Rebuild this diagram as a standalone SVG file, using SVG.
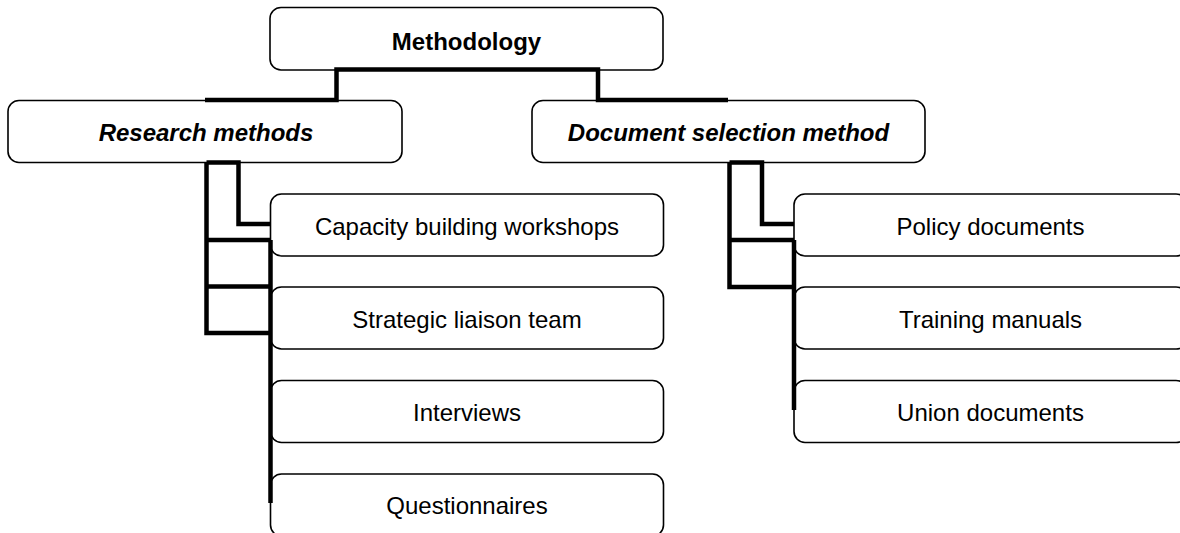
<svg xmlns="http://www.w3.org/2000/svg" width="1180" height="533" viewBox="0 0 1180 533">
  <style>
    .box { fill: #ffffff; stroke: #000000; stroke-width: 1.6; }
    .link { fill: none; stroke: #000000; stroke-width: 4.5; stroke-linejoin: miter; stroke-linecap: butt; }
    text { font-family: "Liberation Sans", Arial, sans-serif; font-size: 24px; fill: #000000; text-anchor: middle; }
    .root { font-weight: bold; }
    .branch { font-weight: bold; font-style: italic; }
  </style>
  <rect width="1180" height="533" fill="#ffffff"/>

  <!-- nodes -->
  <g id="methodology">
    <rect class="box" x="270" y="7.5" width="393" height="62.5" rx="11"/>
    <text class="root" x="466.5" y="50">Methodology</text>
  </g>
  <g id="research-methods">
    <rect class="box" x="8" y="100.5" width="394" height="62" rx="11"/>
    <text class="branch" x="206" y="140.5">Research methods</text>
  </g>
  <g id="document-selection">
    <rect class="box" x="532" y="100.5" width="393" height="62" rx="11"/>
    <text class="branch" x="728.5" y="140.5">Document selection method</text>
  </g>
  <g id="capacity-building">
    <rect class="box" x="270.5" y="194" width="393" height="62" rx="11"/>
    <text x="467" y="234.5">Capacity building workshops</text>
  </g>
  <g id="strategic-liaison">
    <rect class="box" x="270.5" y="287" width="393" height="62" rx="11"/>
    <text x="467" y="327.5">Strategic liaison team</text>
  </g>
  <g id="interviews">
    <rect class="box" x="270.5" y="380.5" width="393" height="62" rx="11"/>
    <text x="467" y="421">Interviews</text>
  </g>
  <g id="questionnaires">
    <rect class="box" x="270.5" y="474" width="393" height="62" rx="11"/>
    <text x="467" y="514">Questionnaires</text>
  </g>
  <g id="policy-documents">
    <rect class="box" x="794" y="194" width="393" height="62" rx="11"/>
    <text x="990.5" y="234.5">Policy documents</text>
  </g>
  <g id="training-manuals">
    <rect class="box" x="794" y="287" width="393" height="62" rx="11"/>
    <text x="990.5" y="327.5">Training manuals</text>
  </g>
  <g id="union-documents">
    <rect class="box" x="794" y="380.5" width="393" height="62" rx="11"/>
    <text x="990.5" y="421">Union documents</text>
  </g>

  <!-- connectors: elbow lines from each parent to its children -->
  <g id="connectors">
    <path class="link" d="M467,69.5 H336.5 V100 H205"/>
    <path class="link" d="M467,69.5 H598 V100 H728"/>

    <path class="link" d="M206.5,162.5 H238.5 V224 H270.5"/>
    <path class="link" d="M206.5,162.5 V333 H270.5"/>
    <path class="link" d="M206.5,240 H270.5"/>
    <path class="link" d="M206.5,286.5 H270.5"/>
    <path class="link" d="M270.5,240 V503"/>

    <path class="link" d="M729.5,162.5 H762 V224 H794"/>
    <path class="link" d="M729.5,162.5 V287 H794"/>
    <path class="link" d="M729.5,240 H794"/>
    <path class="link" d="M794,240 V410"/>
  </g>
</svg>
